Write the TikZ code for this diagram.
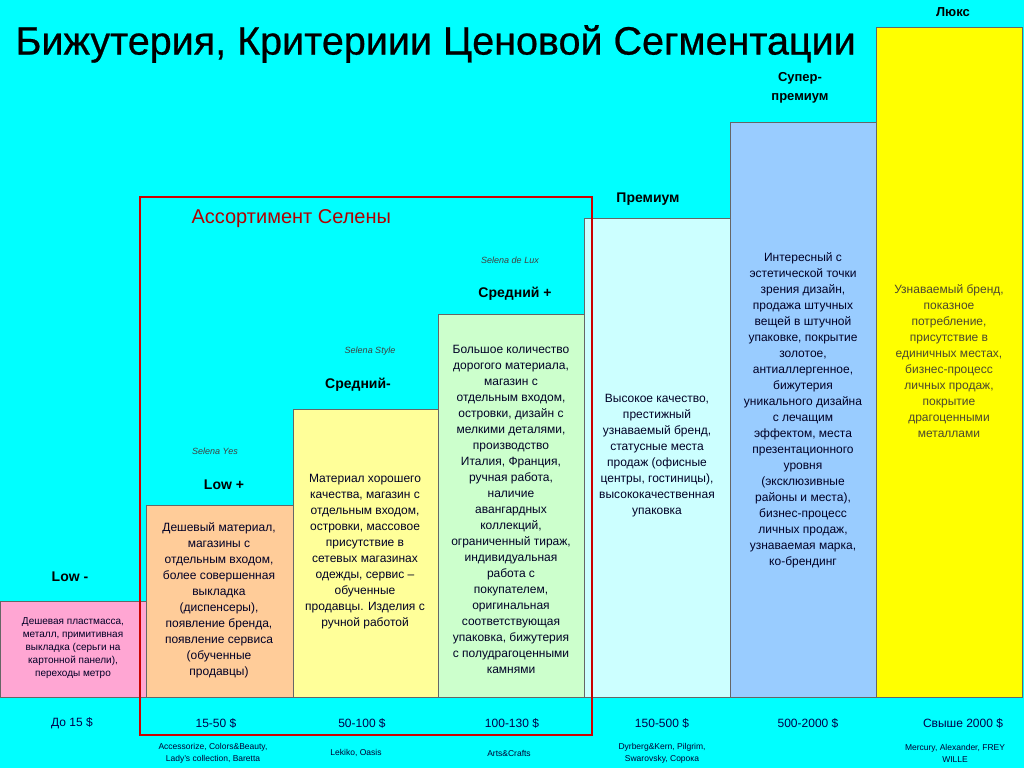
\documentclass[tikz,border=0pt]{standalone}
\usepackage{fontspec}
\setmainfont{Liberation Sans}
\begin{document}
\begin{tikzpicture}[x=1pt,y=-1pt,
 bar/.style={draw=black!60,line width=0.8pt,inner sep=0pt},
 btxt/.style={align=center,font=\fontsize{12}{16}\selectfont,text=black!85!blue},
 head/.style={font=\bfseries\fontsize{14}{16}\selectfont},
 price/.style={font=\fontsize{12}{14}\selectfont,text=black!70!blue},
 brand/.style={align=center,font=\fontsize{8.5}{12}\selectfont,text=black!80!blue},
 sel/.style={font=\itshape\fontsize{9}{11}\selectfont,text=black!75}]
\definecolor{bg}{HTML}{00FFFF}
\fill[bg] (0,0) rectangle (1024,768);
\useasboundingbox (0,0) rectangle (1024,768);
\definecolor{c1}{HTML}{FFA6D3}\definecolor{c2}{HTML}{FFCC99}\definecolor{c3}{HTML}{FFFF99}
\definecolor{c4}{HTML}{CCFFCC}\definecolor{c5}{HTML}{CCFFFF}\definecolor{c6}{HTML}{99CCFF}\definecolor{c7}{HTML}{FFFF00}
\filldraw[bar,fill=c1] (0,601) rectangle (146,697);
\filldraw[bar,fill=c2] (146,505) rectangle (293,697);
\filldraw[bar,fill=c3] (293,409) rectangle (438,697);
\filldraw[bar,fill=c4] (438,314) rectangle (584,697);
\filldraw[bar,fill=c5] (584,218) rectangle (730,697);
\filldraw[bar,fill=c6] (730,122) rectangle (876,697);
\filldraw[bar,fill=c7] (876,27) rectangle (1022,697);
\node[anchor=west,font=\fontsize{39.5}{41}\selectfont,text=black,draw=none] (title) at (12,44) {\addfontfeatures{FakeBold=0.6}Бижутерия, Критериии Ценовой Сегментации};
\draw[red!80!black,line width=2pt] (140,197) rectangle (592,735);
\node[anchor=west,font=\fontsize{20}{22}\selectfont,text=red!70!black] (as) at (188,219) {Ассортимент Селены};
\node[sel] (s1) at (215,451) {Selena Yes};
\node[sel] (s2) at (370,351) {Selena Style};
\node[sel] (s3) at (510,260) {Selena de Lux};
\node[head] (h1) at (70,577) {Low -};
\node[head] (h2) at (224,485) {Low +};
\node[head] (h3) at (358,385) {Средний-};
\node[head] (h4) at (515,294) {Средний +};
\node[head] (h5) at (648,199) {Премиум};
\node[head,align=center,font=\bfseries\fontsize{13}{19}\selectfont] (h6) at (800,88) {Супер-\\премиум};
\node[head,font=\bfseries\fontsize{13}{15}\selectfont] (h7) at (953,12) {Люкс};
\node[btxt,font=\fontsize{10}{13}\selectfont] (t1) at (73,648) {Дешевая пластмасса,\\металл, примитивная\\выкладка (серьги на\\картонной панели),\\переходы метро};
\node[btxt] (t2) at (219,600) {Дешевый материал,\\магазины с\\отдельным входом,\\более совершенная\\выкладка\\(диспенсеры),\\появление бренда,\\появление сервиса\\(обученные\\продавцы)};
\node[btxt] (t3) at (365,552) {Материал хорошего\\качества, магазин с\\отдельным входом,\\островки, массовое\\присутствие в\\сетевых магазинах\\одежды, сервис --\\обученные\\продавцы. Изделия с\\ручной работой};
\node[btxt] (t4) at (511,509) {Большое количество\\дорогого материала,\\магазин с\\отдельным входом,\\островки, дизайн с\\мелкими деталями,\\производство\\Италия, Франция,\\ручная работа,\\наличие\\авангардных\\коллекций,\\ограниченный тираж,\\индивидуальная\\работа с\\покупателем,\\оригинальная\\соответствующая\\упаковка, бижутерия\\с полудрагоценными\\камнями};
\node[btxt] (t5) at (657,456) {Высокое качество,\\престижный\\узнаваемый бренд,\\статусные места\\продаж (офисные\\центры, гостиницы),\\высококачественная\\упаковка};
\node[btxt] (t6) at (803,410) {Интересный с\\эстетической точки\\зрения дизайн,\\продажа штучных\\вещей в штучной\\упаковке, покрытие\\золотое,\\антиаллергенное,\\бижутерия\\уникального дизайна\\с лечащим\\эффектом, места\\презентационного\\уровня\\(эксклюзивные\\районы и места),\\бизнес-процесс\\личных продаж,\\узнаваемая марка,\\ко-брендинг};
\node[btxt,text=black!60!olive] (t7) at (949,361) {Узнаваемый бренд,\\показное\\потребление,\\присутствие в\\единичных местах,\\бизнес-процесс\\личных продаж,\\покрытие\\драгоценными\\металлами};
\node[price] (p1) at (72,723) {До 15 \$};
\node[price] (p2) at (216,723) {15-50 \$};
\node[price] (p3) at (362,723) {50-100 \$};
\node[price] (p4) at (512,723) {100-130 \$};
\node[price] (p5) at (662,723) {150-500 \$};
\node[price] (p6) at (808,723) {500-2000 \$};
\node[price] (p7) at (963,723) {Свыше 2000 \$};
\node[brand] (b2) at (213,753) {Accessorize, Colors\&Beauty,\\Lady's collection, Baretta};
\node[brand] (b3) at (356,753) {Lekiko, Oasis};
\node[brand] (b4) at (509,753) {Arts\&Crafts};
\node[brand] (b5) at (662,753) {Dyrberg\&Kern, Pilgrim,\\Swarovsky, Сорока};
\node[brand] (b7) at (955,753) {Mercury, Alexander, FREY\\WILLE};
\end{tikzpicture}
\end{document}
